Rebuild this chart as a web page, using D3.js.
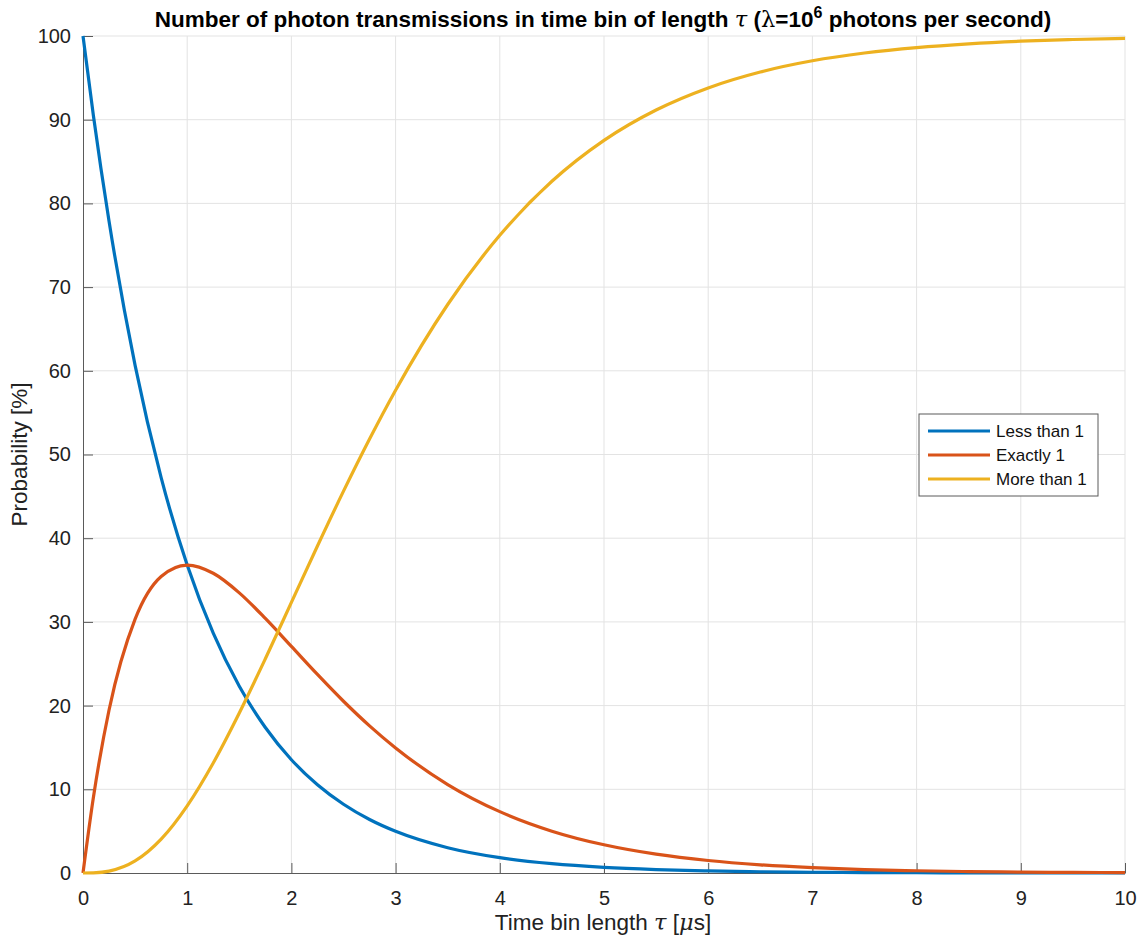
<!DOCTYPE html>
<html>
<head>
<meta charset="utf-8">
<script src="https://cdn.jsdelivr.net/npm/d3@7"></script>
<style>
body { margin: 0; background: #fff; }
text { font-family: "Liberation Sans", Arial, Helvetica, sans-serif; }
</style>
</head>
<body>
<div id="main"></div>
<script>
const width = 1141;
const height = 941;

// tau in microseconds, probabilities in percent
const tau      = [0, 0.1, 0.25, 0.5, 0.75, 1, 1.25, 1.5, 1.75, 2, 2.25, 2.5, 2.75, 3, 3.5, 4, 4.5, 5, 5.5, 6, 6.5, 7, 7.5, 8, 8.5, 9, 9.5, 10];
const lessThan1 = [100, 90.48, 77.88, 60.65, 47.24, 36.79, 28.65, 22.31, 17.38, 13.53, 10.54, 8.21, 6.39, 4.98, 3.02, 1.83, 1.11, 0.67, 0.41, 0.25, 0.15, 0.09, 0.055, 0.034, 0.02, 0.012, 0.007, 0.005];
const exactly1  = [0, 9.05, 19.47, 30.33, 35.43, 36.79, 35.81, 33.47, 30.41, 27.07, 23.72, 20.52, 17.58, 14.94, 10.57, 7.33, 5.00, 3.37, 2.25, 1.49, 0.98, 0.64, 0.41, 0.27, 0.17, 0.11, 0.07, 0.05];
const moreThan1 = [0, 0.02, 0.22, 1.44, 4.05, 8.03, 13.15, 19.12, 25.60, 32.33, 39.07, 45.62, 51.85, 57.68, 67.92, 76.19, 82.64, 87.53, 91.16, 93.80, 95.70, 97.04, 97.97, 98.62, 99.07, 99.38, 99.58, 99.72];

const seriesNames = ['Less than 1', 'Exactly 1', 'More than 1'];
const seriesColors = ['#0072BD', '#D95319', '#EDB120'];
const xTicks = d3.range(0, 11, 1);
const yTicks = d3.range(0, 101, 10);

const margin = {left: 83, right: 16, top: 36, bottom: 68};

const svg = d3.select('#main')
    .append('svg')
    .attr('width', width)
    .attr('height', height);

const x = d3.scaleLinear().domain([0, 10]).range([margin.left, width - margin.right]);
const y = d3.scaleLinear().domain([0, 100]).range([height - margin.bottom, margin.top]);

// grid
svg.append('g')
    .selectAll('line')
    .data(xTicks.slice(1))
    .enter().append('line')
    .attr('x1', d => x(d)).attr('x2', d => x(d))
    .attr('y1', y(0)).attr('y2', y(100))
    .attr('stroke', '#e3e3e3').attr('stroke-width', 1);

svg.append('g')
    .selectAll('line')
    .data(yTicks.slice(1))
    .enter().append('line')
    .attr('x1', x(0)).attr('x2', x(10))
    .attr('y1', d => y(d)).attr('y2', d => y(d))
    .attr('stroke', '#e3e3e3').attr('stroke-width', 1);

// axes
const xAxis = svg.append('g')
    .attr('transform', `translate(0,${y(0)})`)
    .call(d3.axisBottom(x).tickValues(xTicks).tickSizeInner(-10).tickSizeOuter(0).tickPadding(18));
const yAxis = svg.append('g')
    .attr('transform', `translate(${x(0)},0)`)
    .call(d3.axisLeft(y).tickValues(yTicks).tickSizeInner(-10).tickSizeOuter(0).tickPadding(12));

[xAxis, yAxis].forEach(a => {
    a.select('.domain').attr('stroke', '#5a5a5a').attr('stroke-width', 1);
    a.selectAll('.tick line').attr('stroke', '#5a5a5a');
    a.selectAll('.tick text')
        .attr('fill', '#222')
        .style('font-size', '20px')
        .style('font-family', '"Liberation Sans", Arial, sans-serif');
});

// lines
const allSeries = [lessThan1, exactly1, moreThan1];
const line = d3.line()
    .x((d, i) => x(tau[i]))
    .y(d => y(d))
    .curve(d3.curveMonotoneX);

svg.append('g')
    .selectAll('path')
    .data(allSeries)
    .enter().append('path')
    .attr('d', line)
    .attr('fill', 'none')
    .attr('stroke', (d, i) => seriesColors[i])
    .attr('stroke-width', 3.2)
    .attr('stroke-linejoin', 'round');

// title
const title = svg.append('text')
    .attr('x', 603)
    .attr('y', 27)
    .attr('text-anchor', 'middle')
    .style('font-size', '22.5px')
    .style('font-weight', 'bold')
    .attr('fill', '#000');
title.append('tspan').text('Number of photon transmissions in time bin of length ');
title.append('tspan').text('τ').style('font-style', 'italic').style('font-weight', 'normal').style('font-family', '"DejaVu Serif", serif');
title.append('tspan').text(' (');
title.append('tspan').text('λ').style('font-weight', 'normal').style('font-family', '"DejaVu Serif", serif');
title.append('tspan').text('=10');
title.append('tspan').text('6').attr('dy', -9).style('font-size', '16px');
title.append('tspan').text(' photons per second)').attr('dy', 9);

// axis labels
const xl = svg.append('text')
    .attr('x', 603)
    .attr('y', 930)
    .attr('text-anchor', 'middle')
    .style('font-size', '22.5px')
    .attr('fill', '#222');
xl.append('tspan').text('Time bin length ');
xl.append('tspan').text('τ').style('font-style', 'italic').style('font-family', '"DejaVu Serif", serif');
xl.append('tspan').text(' [');
xl.append('tspan').text('μ').style('font-style', 'italic').style('font-family', '"DejaVu Serif", serif');
xl.append('tspan').text('s]');

svg.append('text')
    .attr('transform', `translate(27,${(y(0) + y(100)) / 2}) rotate(-90)`)
    .attr('text-anchor', 'middle')
    .style('font-size', '22.5px')
    .attr('fill', '#222')
    .text('Probability [%]');

// legend
const legend = svg.append('g').attr('transform', 'translate(919,414)');
legend.append('rect')
    .attr('width', 179).attr('height', 82)
    .attr('fill', '#fff').attr('stroke', '#5a5a5a').attr('stroke-width', 1);
const rows = legend.selectAll('g.row')
    .data(seriesNames)
    .enter().append('g')
    .attr('class', 'row')
    .attr('transform', (d, i) => `translate(0,${17 + i * 24})`);
rows.append('line')
    .attr('x1', 9).attr('x2', 71)
    .attr('stroke', (d, i) => seriesColors[i])
    .attr('stroke-width', 3.2);
rows.append('text')
    .attr('x', 77).attr('y', 6)
    .style('font-size', '17px')
    .attr('fill', '#111')
    .text(d => d);
</script>
</body>
</html>
